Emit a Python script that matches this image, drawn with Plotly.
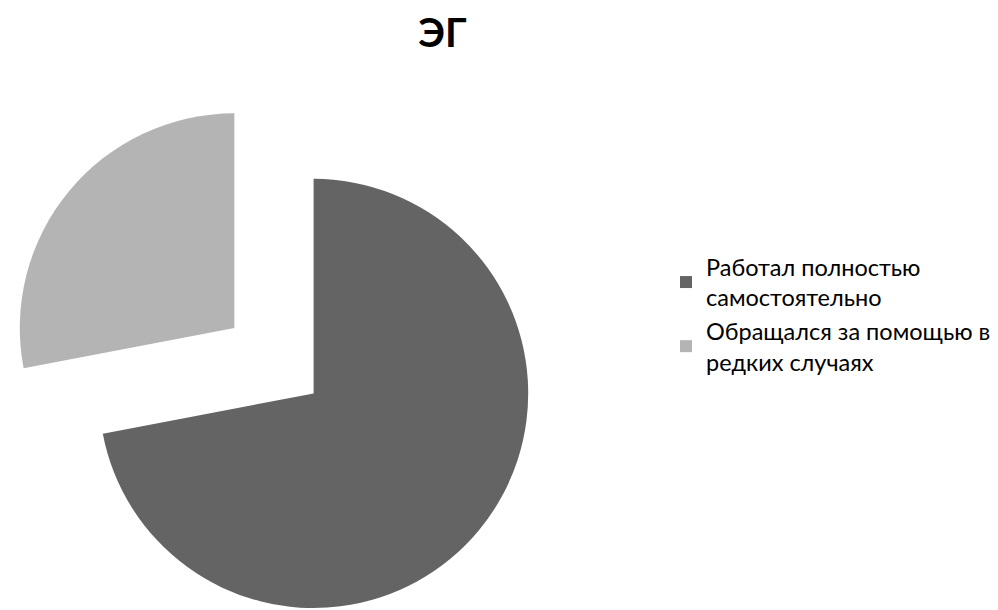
import plotly.graph_objects as go

# Data
categories = ["Работал полностью<br>самостоятельно", "Обращался за помощью в<br>редких случаях"]
values = [72, 28]
colors = ["#646464", "#b4b4b4"]
pulls = [0.2395, 0.2395]
title_text = "ЭГ"

W, H = 998, 640

fig = go.Figure(
    go.Pie(
        labels=categories,
        values=values,
        marker=dict(colors=colors, line=dict(width=0)),
        pull=pulls,
        sort=False,
        direction="clockwise",
        rotation=0,
        textinfo="none",
        hoverinfo="label+percent",
        domain=dict(x=[0, 532.0 / W], y=[(H - 618.7) / H, (H - 86.7) / H]),
    )
)

fig.update_layout(
    width=W,
    height=H,
    margin=dict(l=0, r=0, t=0, b=0),
    paper_bgcolor="white",
    plot_bgcolor="white",
    font=dict(family="Lato", color="#000000"),
    title=dict(
        text="<b>" + title_text + "</b>",
        font=dict(family="Lato", size=40, color="#000000"),
        x=434.5 / W,
        xanchor="center",
        xref="paper",
        y=1 - 25.3 / H,
        yanchor="middle",
        yref="container",
    ),
    legend=dict(
        x=658 / W,
        xanchor="left",
        y=1 - 237 / H,
        yanchor="top",
        font=dict(family="Lato", size=23.5, color="#000000"),
        bgcolor="rgba(0,0,0,0)",
        borderwidth=0,
        tracegroupgap=0,
    ),
    showlegend=True,
)

fig.write_html("out.html")
